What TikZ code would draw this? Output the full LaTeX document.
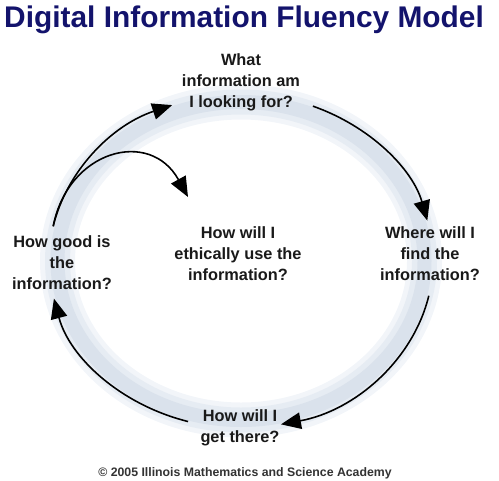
\documentclass[tikz,border=0pt]{standalone}
\usepackage{fontspec}
\setmainfont{Liberation Sans}
\usetikzlibrary{arrows.meta}
\definecolor{titleblue}{HTML}{13136C}
\definecolor{ringout}{HTML}{F2F5F9}
\definecolor{ringmid}{HTML}{E6ECF3}
\definecolor{ringin}{HTML}{DAE2EC}

\begin{document}
\begin{tikzpicture}[x=0.02cm, y=-0.02cm,
    question/.style={align=center, inner sep=0pt, text=black!90,
        font=\bfseries\fontsize{9.3}{12}\selectfont},
    cycle/.style={->, >={Triangle[length=4mm, width=3.3mm]}, line width=0.9pt, black}]
    % Definitions
    \coordinate (origo) at (241,261);
    \def \ringrx{183.5}
    \def \ringry{159}
    \def \rx{192}
    \def \ry{167}
    \useasboundingbox (0,0) rectangle (499,480);
    %%%
    %%% Ring
    %%%
    \foreach \w/\c in {0.7cm/ringout, 0.5cm/ringmid, 0.28cm/ringin}
    {
        \draw[\c, line width=\w] (origo) ellipse [x radius=\ringrx, y radius=\ringry];
    }
    % Arrow ends on the ring
    \begin{scope}[shift={(origo)}]
        \coordinate (fromleft)   at (192:{\rx} and {\ry});
        \coordinate (fromtop)    at (-68:{\rx} and {\ry});
        \coordinate (fromright)  at (12:{\rx} and {\ry});
        \coordinate (frombottom) at (106:{\rx} and {\ry});
    \end{scope}
    \coordinate (ethictip) at (188,197);
    %%%
    %%% Texts
    %%%
    \node[anchor=base, text=titleblue, font=\bfseries\fontsize{17}{20}\selectfont] (title) at (244,27) {Digital Information Fluency Model};
    \node[question] (what)   at (241,82)  {What\\information am\\I looking for?};
    \node[question] (where)  at (430,254) {Where will I\\find the\\information?};
    \node[question] (how)    at (240,428) {How will I\\get there?};
    \node[question] (good)   at (62,263)  {How good is\\the\\information?};
    \node[question] (ethics) at (238,254) {How will I\\ethically use the\\information?};
    \node[anchor=base, text=black!80, font=\bfseries\fontsize{7}{8}\selectfont] (credit) at (245,476) {\textcopyright{} 2005 Illinois Mathematics and Science Academy};
    %%%
    %%% Arrows
    %%%
    \draw[cycle] (fromleft) arc[start angle=192, end angle=249, x radius=\rx, y radius=\ry];
    \draw[cycle] (fromtop) arc[start angle=-68, end angle=-14, x radius=\rx, y radius=\ry];
    \draw[cycle] (fromright) arc[start angle=12, end angle=78, x radius=\rx, y radius=\ry];
    \draw[cycle] (frombottom) arc[start angle=106, end angle=167, x radius=\rx, y radius=\ry];
    % Side arrow to the middle question
    \draw[cycle] (fromleft) .. controls (68,150) and (150,128) .. (ethictip);
\end{tikzpicture}
\end{document}
